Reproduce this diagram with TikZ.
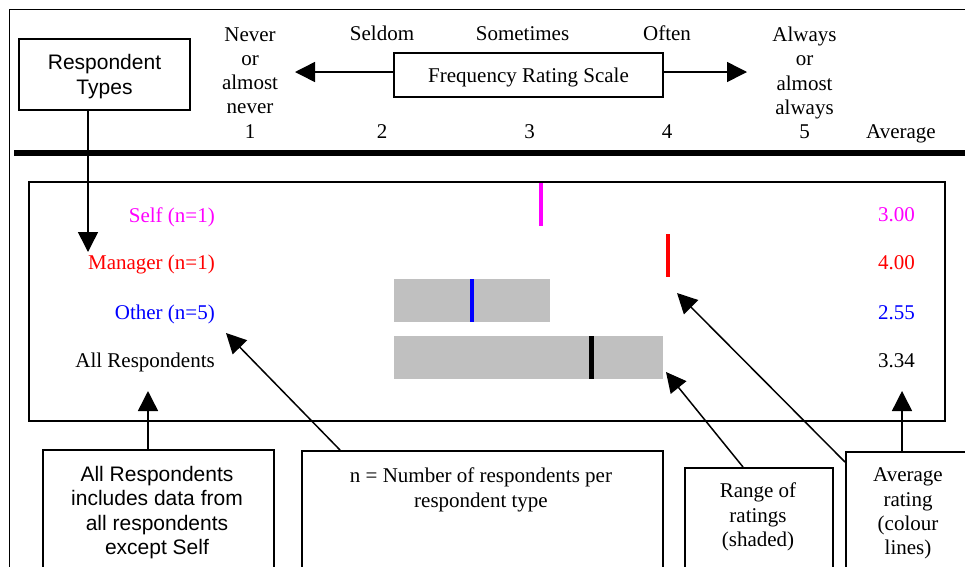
\documentclass[tikz,border=0pt]{standalone}
\usepackage{fontspec}
\setmainfont{Liberation Serif}
\setsansfont{Liberation Sans}
\usetikzlibrary{arrows.meta}
\definecolor{selfMagenta}{HTML}{FF00FF}
\definecolor{managerRed}{HTML}{FF0000}
\definecolor{otherBlue}{HTML}{0000FF}
\definecolor{rangeGrey}{HTML}{C0C0C0}

\begin{document}
\begin{tikzpicture}[x=1pt,y=-1pt,
  serif/.style={font=\fontsize{21}{24.3}\selectfont,inner sep=0pt,align=center},
  sans/.style={font=\sffamily\fontsize{21}{24.3}\selectfont,inner sep=0pt,align=center},
  frame/.style={draw,line width=1.5pt},
  arr/.style={line width=1.5pt,-{Triangle[length=20pt,width=20pt]}}]
\clip (0,0) rectangle (965,566);
% page frame
\draw[line width=1pt] (9,580)--(9,9)--(980,9);
% header
\node[frame,sans,minimum width=171pt,minimum height=71pt,text depth=0pt] (types) at (104.5,74.5) {Respondent\\Types};
\node[frame,serif,minimum width=269pt,minimum height=44pt,text height=17pt,text depth=2pt] (freq) at (528.5,75) {Frequency Rating Scale};
\coordinate (lTip) at (295,72);
\coordinate (rTip) at (747,72);
\draw[arr] (freq.west |- lTip) -- (lTip);
\draw[arr] (freq.east |- rTip) -- (rTip);
\node[serif,anchor=north] (never) at (250,27.1) {Never\\or\\almost\\never\\1};
\node[serif,anchor=base] (seldom) at (382,40.5) {Seldom};
\node[serif,anchor=base] (sometimes) at (522.5,40.5) {Sometimes};
\node[serif,anchor=base] (often) at (667,40.5) {Often};
\node[serif,anchor=north] (always) at (804.5,26.7) {Always\\or\\almost\\always\\5};
\node[serif,anchor=base] (two) at (382,138) {2};
\node[serif,anchor=base] (three) at (529.5,138) {3};
\node[serif,anchor=base] (four) at (667,138) {4};
\node[serif,anchor=base] (average) at (901,138) {Average};
\draw[line width=6pt] (14,153)--(980,153);
% chart panel
\node[frame,line width=2pt,minimum width=916pt,minimum height=239pt,anchor=north west] (panel) at (28,181) {};
\fill[rangeGrey] (394,279) rectangle (550,322);
\fill[rangeGrey] (394,336) rectangle (663,379);
\draw[selfMagenta,line width=4pt] (541,183)--(541,226);
\draw[managerRed,line width=4pt] (668,234)--(668,277);
\draw[otherBlue,line width=4pt] (472,279)--(472,322);
\draw[line width=4.5pt] (591.5,336)--(591.5,379);
\node[serif,anchor=base east,text=selfMagenta] (selfLbl) at (215,222) {Self (n=1)};
\node[serif,anchor=base east,text=managerRed] (mgrLbl) at (215,269) {Manager (n=1)};
\node[serif,anchor=base east,text=otherBlue] (otherLbl) at (215,319) {Other (n=5)};
\node[serif,anchor=base east] (allLbl) at (215,367) {All Respondents};
\node[serif,anchor=base east,text=selfMagenta] (selfAvg) at (915,221) {3.00};
\node[serif,anchor=base east,text=managerRed] (mgrAvg) at (915,269) {4.00};
\node[serif,anchor=base east,text=otherBlue] (otherAvg) at (915,319) {2.55};
\node[serif,anchor=base east] (allAvg) at (915,367) {3.34};
% callout boxes
\node[frame,minimum width=231pt,minimum height=150pt,anchor=north west] (allBox) at (42,449) {};
\node[sans,anchor=north] (allTxt) at (157,466) {All Respondents\\includes data from\\all respondents\\except Self};
\node[frame,minimum width=361pt,minimum height=150pt,anchor=north west] (nBox) at (301,450) {};
\node[serif,anchor=north] (nTxt) at (481,467.7) {n = Number of respondents per\\respondent type};
\node[frame,minimum width=148pt,minimum height=150pt,anchor=north west] (rangeBox) at (684,467) {};
\node[serif,anchor=north] (rangeTxt) at (758,482.7) {Range of\\ratings\\(shaded)};
\node[frame,minimum width=126pt,minimum height=150pt,anchor=north west] (avgBox) at (845,451) {};
\node[serif,anchor=north] (avgTxt) at (908,467.8) {Average\\rating\\(colour\\lines)};
% callout arrows
\coordinate (typesTip) at (88,252);
\draw[arr] (typesTip |- types.south) -- (typesTip);
\coordinate (allTip) at (148,391);
\draw[arr] (allTip |- allBox.north) -- (allTip);
\coordinate (nTip) at (226,333);
\draw[arr] ([xshift=39pt]nBox.north west) -- (nTip);
\coordinate (rangeTip) at (666,372);
\draw[arr] ([xshift=59pt]rangeBox.north west) -- (rangeTip);
\coordinate (avgTip) at (677,293);
\draw[arr] ([yshift=-11pt]avgBox.north west) -- (avgTip);
\coordinate (avgNumTip) at (902,391);
\draw[arr] (avgNumTip |- avgBox.north) -- (avgNumTip);
\end{tikzpicture}
\end{document}
